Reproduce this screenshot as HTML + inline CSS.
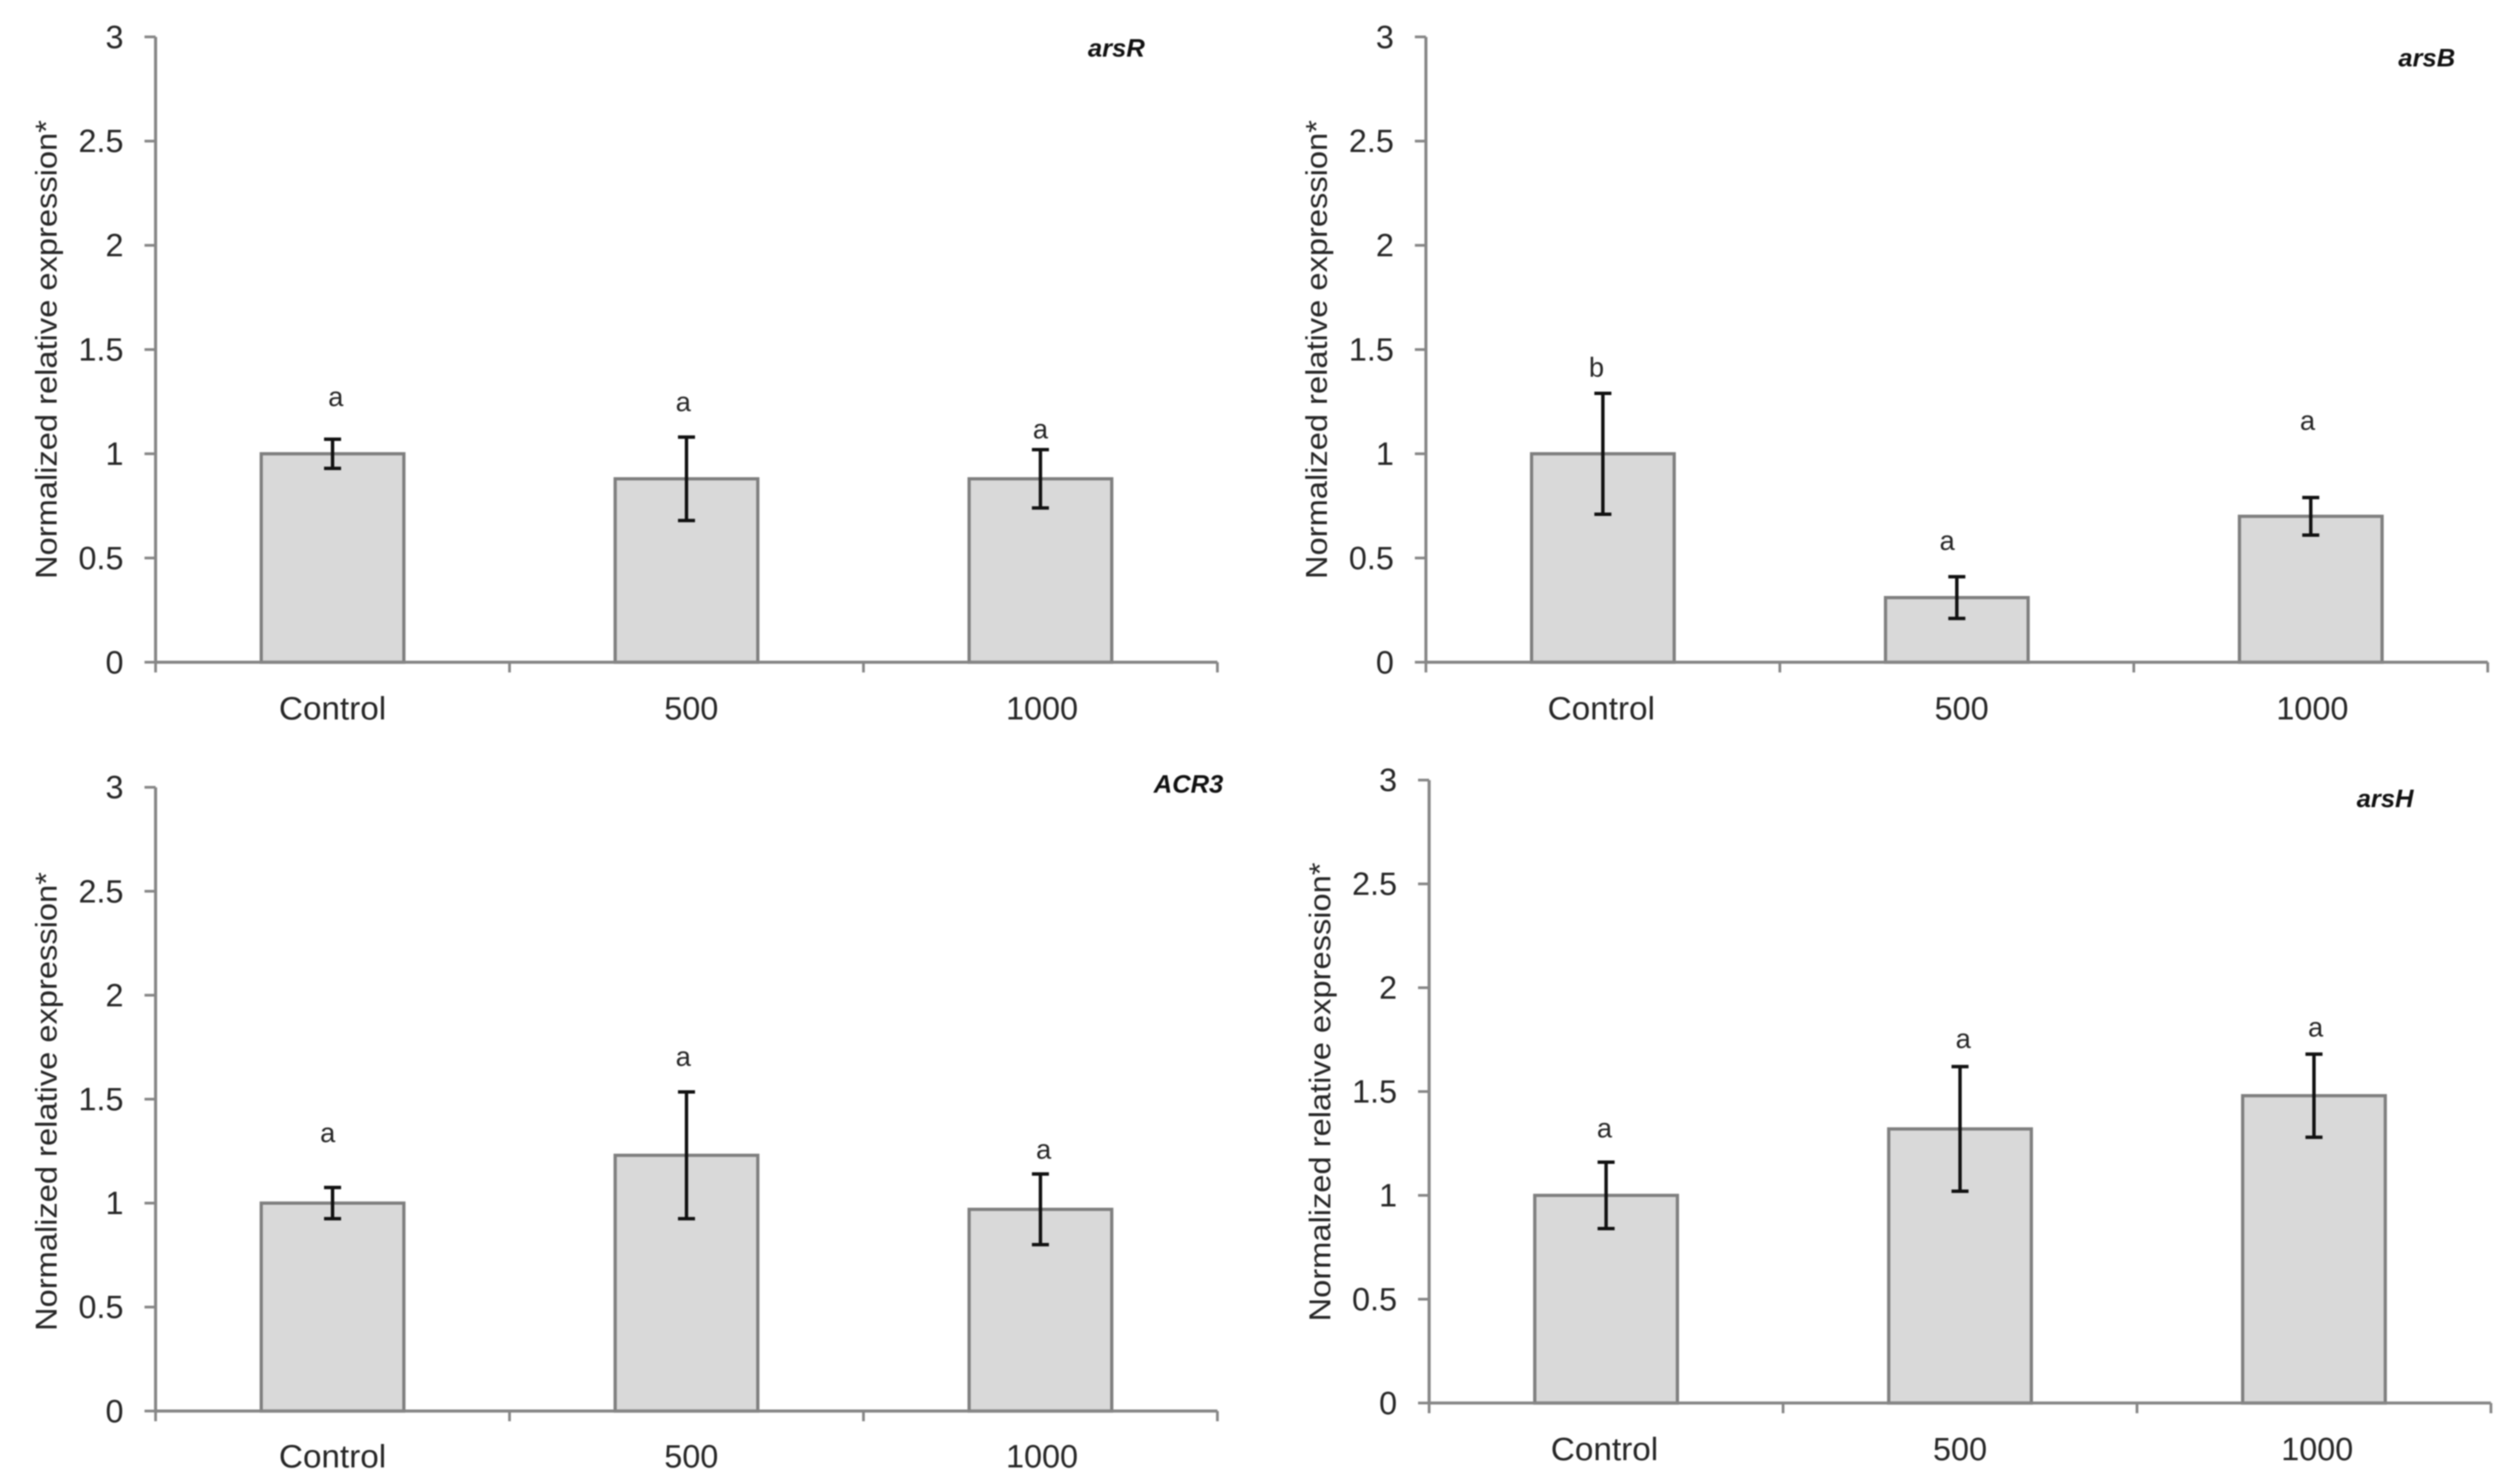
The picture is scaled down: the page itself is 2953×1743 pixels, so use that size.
<!DOCTYPE html>
<html lang="en">
<head>
<meta charset="utf-8">
<title>Normalized relative expression of arsenic resistance genes</title>
<style>
html,body{margin:0;padding:0;background:#fff;width:2953px;height:1743px;overflow:hidden}
svg{display:block;filter:blur(0.9px)}
text{font-family:"Liberation Sans",sans-serif;fill:#262626}
</style>
</head>
<body>
<svg id="figure" xmlns="http://www.w3.org/2000/svg" width="2953" height="1743" viewBox="0 0 2953 1743"></svg>
<script>
const categories = ['Control', '500', '1000'];
const yTicks = [0, 0.5, 1, 1.5, 2, 2.5, 3];
const yTickLabels = ['0', '0.5', '1', '1.5', '2', '2.5', '3'];
const yAxisMax = 3;
const yAxisLabel = 'Normalized relative expression*';

const arsRValues = [1, 0.88, 0.88];
const arsRErrors = [0.07, 0.2, 0.14];
const arsRLetters = ['a', 'a', 'a'];
const arsRLetterLevels = [1.27, 1.245, 1.115];

const arsBValues = [1, 0.31, 0.7];
const arsBErrors = [0.29, 0.1, 0.09];
const arsBLetters = ['b', 'a', 'a'];
const arsBLetterLevels = [1.41, 0.58, 1.155];

const acr3Values = [1, 1.23, 0.97];
const acr3Errors = [0.075, 0.305, 0.17];
const acr3Letters = ['a', 'a', 'a'];
const acr3LetterLevels = [1.335, 1.7, 1.255];

const arsHValues = [1, 1.32, 1.48];
const arsHErrors = [0.16, 0.3, 0.2];
const arsHLetters = ['a', 'a', 'a'];
const arsHLetterLevels = [1.32, 1.75, 1.805];

const S = 2953 / 1568;
const panels = [
  {gene:'arsR', key:'arsr', values:arsRValues, errors:arsRErrors, letters:arsRLetters, levels:arsRLetterLevels,
   x0:97, x1:759, y0:413, y3:23, titleX:696, titleY:30, axisTitleX:29, axisTitleY:218, tickRight:77,
   letterShift:[2,-2,0], catShift:[0,3,1], catDrop:67},
  {gene:'arsB', key:'arsb', values:arsBValues, errors:arsBErrors, letters:arsBLetters, levels:arsBLetterLevels,
   x0:889, x1:1551, y0:413, y3:23, titleX:1513, titleY:36, axisTitleX:821, axisTitleY:218, tickRight:869,
   letterShift:[-4,-6,-2], catShift:[-1,3,1], catDrop:67},
  {gene:'ACR3', key:'acr3', values:acr3Values, errors:acr3Errors, letters:acr3Letters, levels:acr3LetterLevels,
   x0:97, x1:759, y0:880, y3:491, titleX:741, titleY:489, axisTitleX:29, axisTitleY:687, tickRight:77,
   letterShift:[-3,-2,2], catShift:[0,3,1], catDrop:66},
  {gene:'arsH', key:'arsh', values:arsHValues, errors:arsHErrors, letters:arsHLetters, levels:arsHLetterLevels,
   x0:891, x1:1553, y0:875, y3:486.5, titleX:1487, titleY:498, axisTitleX:823, axisTitleY:681, tickRight:871,
   letterShift:[-1,2,1], catShift:[-1,0,2], catDrop:67}
];

const NS = 'http://www.w3.org/2000/svg';
const AXIS = '#868686';
const svg = document.getElementById('figure');

function node(tag, attrs, parent, content) {
  const el = document.createElementNS(NS, tag);
  for (const k in attrs) el.setAttribute(k, attrs[k]);
  if (content !== undefined) el.textContent = content;
  parent.appendChild(el);
  return el;
}

function drawPanel(p) {
  const xLeft = p.x0 * S, xRight = p.x1 * S, yBase = p.y0 * S, yTop = p.y3 * S;
  const yScale = v => yBase - (v / yAxisMax) * (yBase - yTop);
  const band = (xRight - xLeft) / categories.length;
  const xScale = i => xLeft + band * (i + 0.5);
  const barW = 0.403 * band;

  const g = node('g', {}, svg);
  
  

  // bars first, axes over them
  p.values.forEach((v, i) => {
    const bar = node('rect', {x:xScale(i) - barW / 2, y:yScale(v), width:barW, height:yBase - yScale(v),
      fill:'#d9d9d9', stroke:'#7f7f7f', 'stroke-width':3.8}, g);
    
    
  });

  const yAxis = node('line', {x1:xLeft, x2:xLeft, y1:yTop, y2:yBase, stroke:AXIS, 'stroke-width':3.6}, g);
  
  
  const xAxis = node('line', {x1:xLeft, x2:xRight, y1:yBase, y2:yBase, stroke:AXIS, 'stroke-width':3.6}, g);
  
  

  yTicks.forEach((t, i) => {
    const y = yScale(t);
    const tick = node('line', {x1:xLeft - 13, x2:xLeft, y1:y, y2:y, stroke:AXIS, 'stroke-width':3.2}, g);
    
    
    const lab = node('text', {x:p.tickRight * S, y:y + 13, 'text-anchor':'end', 'font-size':38}, g, yTickLabels[i]);
    
    
  });

  for (let i = 0; i <= categories.length; i++) {
    const x = xLeft + band * i;
    const tick = node('line', {x1:x, x2:x, y1:yBase, y2:yBase + 12, stroke:AXIS, 'stroke-width':3.2}, g);
    
    
  }

  categories.forEach((c, i) => {
    const lab = node('text', {x:xScale(i) + p.catShift[i] * S, y:yBase + p.catDrop, 'text-anchor':'middle', 'font-size':38}, g, c);
    if (c === 'Control') lab.setAttribute('textLength', 126);
    if (c === 'Control') lab.setAttribute('lengthAdjust', 'spacingAndGlyphs');
    
    
  });

  p.values.forEach((v, i) => {
    const cx = xScale(i);
    const hi = yScale(v + p.errors[i]), lo = yScale(v - p.errors[i]);
    const err = node('path', {d:'M' + cx + ' ' + hi + 'V' + lo + 'M' + (cx - 10) + ' ' + hi + 'H' + (cx + 10) + 'M' + (cx - 10) + ' ' + lo + 'H' + (cx + 10),
      fill:'none', stroke:'#111', 'stroke-width':4}, g);
    
    
    const let_ = node('text', {x:cx + p.letterShift[i] * S, y:yScale(p.levels[i]) + 10, 'text-anchor':'middle', 'font-size':32}, g, p.letters[i]);
    
    
  });

  const ax = p.axisTitleX * S, ay = p.axisTitleY * S;
  const yTitle = node('text', {x:ax, y:ay, 'text-anchor':'middle', 'font-size':35, textLength:539, lengthAdjust:'spacingAndGlyphs',
    transform:'rotate(-90 ' + ax + ' ' + ay + ') translate(0 12)'}, g, yAxisLabel);
  
  

  const title = node('text', {x:p.titleX * S, y:p.titleY * S + 10, 'text-anchor':'middle', 'font-size':30,
    'font-weight':'bold', 'font-style':'italic', style:'fill:#111'}, g, p.gene);
  
  
}

panels.forEach(drawPanel);
</script>
</body>
</html>
